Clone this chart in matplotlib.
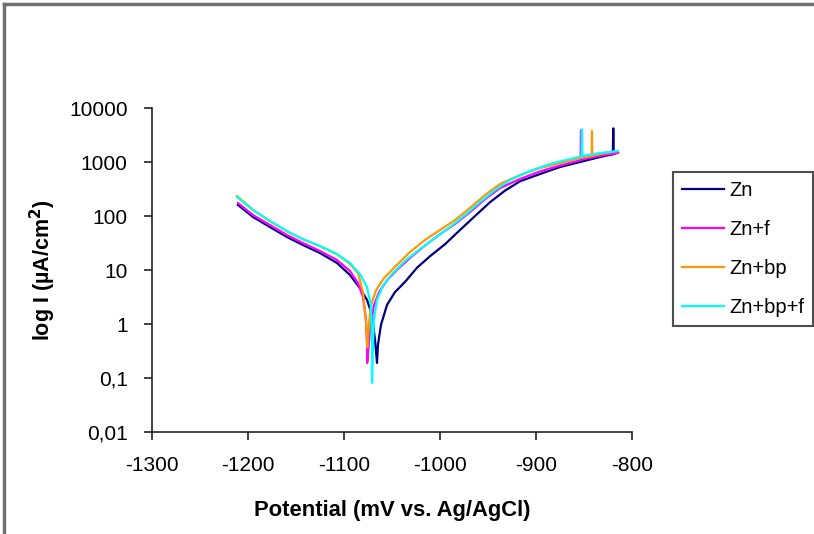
import numpy as np
import matplotlib
matplotlib.use("Agg")
import matplotlib.pyplot as plt
from matplotlib.ticker import FixedLocator, FixedFormatter, NullLocator
from matplotlib.lines import Line2D

plt.rcParams['font.family'] = ['Liberation Sans', 'DejaVu Sans']

# potential (mV vs Ag/AgCl) and current density (uA/cm2)
zn_mv = [-1210.4, -1194.8, -1177.1, -1159.4, -1142.7, -1125.0, -1107.3, -1093.8,
         -1083.3, -1076.0, -1070.8, -1067.7, -1065.6,
         -1064.6, -1061.5, -1055.2, -1046.9, -1036.5, -1024.0, -1010.4, -994.8,
         -979.2, -963.5, -947.9, -932.3, -916.7, -895.8, -875.0, -854.2, -833.3,
         -820.0, -819.5, -819.0, -814.6]
zn_i = [160, 96, 62.5, 40.8, 29, 20.6, 13.5, 8.1,
        4.6, 2.8, 1.47, 0.51, 0.19,
        0.41, 0.96, 2.25, 3.9, 6.0, 11.0, 18.0, 30,
        55, 100, 180, 295, 440, 600, 807, 1000, 1238,
        1390, 4210, 1400, 1530]

znf_mv = [-1210.4, -1194.8, -1177.1, -1159.4, -1142.7, -1125.0, -1107.3, -1093.8,
          -1085.4, -1080.2, -1077.1, -1076.0, -1075.8,
          -1072.9, -1068.75, -1063.0, -1055.0, -1045.0, -1030.0, -1015.0, -1000.0,
          -984.4, -968.8, -953.1, -937.5, -916.7, -895.8, -875.0, -854.2,
          -853.5, -853.1, -852.7, -833.3, -814.6]
znf_i = [174, 104, 68, 44.5, 31.6, 22.5, 15.3, 9.6,
         5.7, 3.2, 1.19, 0.41, 0.19,
         0.77, 2.25, 4.0, 6.5, 10, 17.5, 29, 46,
         71, 118, 205, 330, 485, 670, 860, 1080,
         1100, 3900, 1110, 1300, 1470]

znbp_mv = [-1211.5, -1194.8, -1177.1, -1159.4, -1142.7, -1125.0, -1107.3, -1093.8,
           -1085.0, -1080.0, -1077.0, -1076.0, -1075.8,
           -1074.0, -1071.9, -1066.7, -1058.3, -1046.9, -1031.3, -1015.6, -1000.0,
           -984.4, -968.8, -953.1, -937.5, -916.7, -895.8, -875.0, -854.2,
           -842.0, -841.7, -841.3, -833.3, -814.6]
znbp_i = [235, 131, 80, 52, 37, 27.5, 19.5, 13,
          8.5, 3.75, 1.05, 0.6, 0.37,
          0.96, 2.25, 4.2, 7.1, 11.4, 21.5, 36, 55,
          84, 141, 245, 392, 574, 774, 958, 1186,
          1300, 3750, 1310, 1406, 1600]

znbpf_mv = [-1211.5, -1194.8, -1177.1, -1159.4, -1142.7, -1125.0, -1107.3, -1093.8,
            -1083.3, -1076.0, -1071.9, -1070.9, -1070.8,
            -1069.8, -1068.75, -1065.6, -1059.4, -1050.0, -1036.5, -1020.8, -1005.2,
            -989.6, -974.0, -958.3, -942.7, -927.1, -906.25, -885.4, -864.6,
            -852.5, -852.1, -851.7, -833.3, -814.6]
znbpf_i = [225, 129, 81, 53, 37.5, 27.8, 19.8, 13.5,
           8.4, 4.8, 2.25, 0.51, 0.081,
           0.41, 1.19, 2.8, 5.1, 8.4, 14.7, 24.5, 39,
           62.5, 104, 182, 303, 464, 681, 918, 1137,
           1280, 4040, 1291, 1468, 1600]

labels = ['Zn', 'Zn+f', 'Zn+bp', 'Zn+bp+f']
colors = ['#000080', '#FF00FF', '#FF9900', '#00FFFF']

y_ticks = [0.01, 0.1, 1, 10, 100, 1000, 10000]
y_ticklabels = ['0,01', '0,1', '1', '10', '100', '1000', '10000']
x_ticks = [-1300, -1200, -1100, -1000, -900, -800]

fig = plt.figure(figsize=(8.14, 5.34), dpi=100)
ax = fig.add_axes([0.1867, 0.191, 0.5897, 0.6067])

series = [(zn_mv, zn_i), (znf_mv, znf_i), (znbp_mv, znbp_i), (znbpf_mv, znbpf_i)]
for si, (xs, ys) in enumerate(series):
    ax.plot(xs, ys, color=colors[si], linewidth=1.6, label=labels[si])

ax.set_yscale('log')
ax.set_xlim(-1300, -800)
ax.set_ylim(0.01, 10000)
ax.yaxis.set_major_locator(FixedLocator(y_ticks))
ax.yaxis.set_major_formatter(FixedFormatter(y_ticklabels))
ax.yaxis.set_minor_locator(NullLocator())
ax.set_xticks(x_ticks)
ax.set_xticklabels([str(x) for x in x_ticks])

for s in ['top', 'right']:
    ax.spines[s].set_visible(False)
for s in ['left', 'bottom']:
    ax.spines[s].set_linewidth(1.2)
    ax.spines[s].set_color('#222222')
ax.tick_params(direction='out', length=6, width=1.2, color='#222222',
               labelsize=15, pad=11.5)

ax.set_xlabel('Potential (mV vs. Ag/AgCl)', fontsize=15.8, fontweight='bold', labelpad=18)
ax.set_ylabel('log I (µA/cm$^\\mathbf{2}$)', fontsize=15.5, fontweight='bold', labelpad=8)

leg = fig.legend(loc='upper left', bbox_to_anchor=(0.8268, 0.678), fontsize=14.5,
                 frameon=True, fancybox=False, edgecolor='#222222',
                 handlelength=2.1, handletextpad=0.25, labelspacing=1.0,
                 borderpad=0.45, borderaxespad=0)
leg.get_frame().set_linewidth(1.5)
for h in leg.get_lines():
    h.set_linewidth(1.6)

# outer frame of the screenshot
fig.add_artist(Line2D([0.005, 0.005], [0, 0.992], transform=fig.transFigure,
                      color='#707070', linewidth=2.5))
fig.add_artist(Line2D([0.005, 1], [0.992, 0.992], transform=fig.transFigure,
                      color='#707070', linewidth=2.5))

plt.savefig('out.png', dpi=100)
